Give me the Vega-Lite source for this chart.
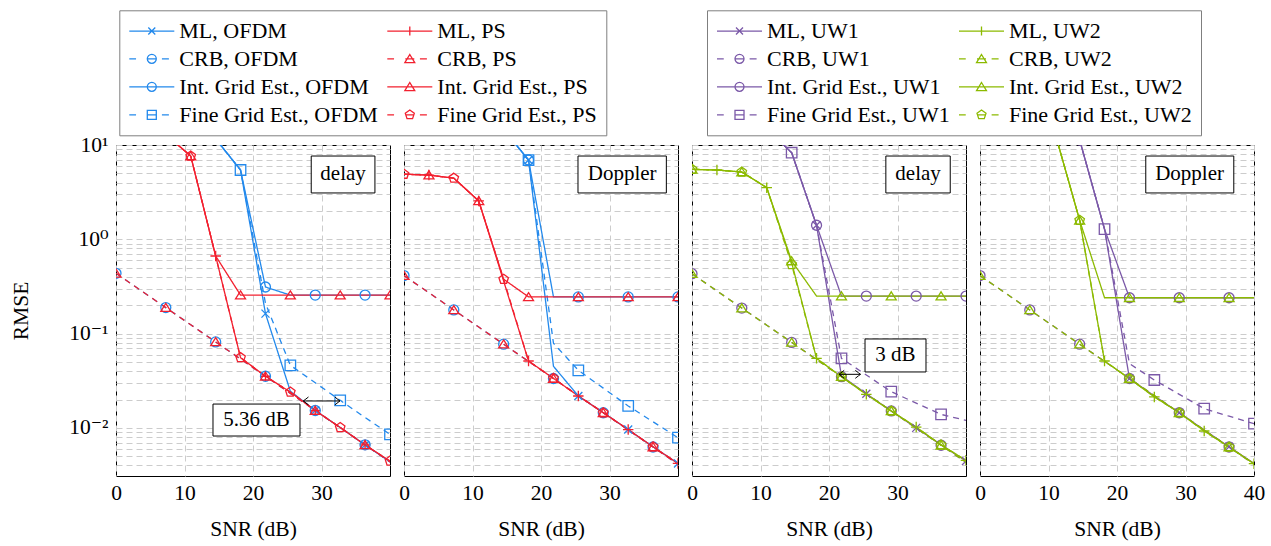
{
"$schema": "https://vega.github.io/schema/vega-lite/v6.json",
"background": "white",
"padding": {"left": 10, "top": 9, "right": 5, "bottom": 5},
"config": {
 "font": "Liberation Serif, Tinos, DejaVu Serif, serif",
 "view": {"stroke": "black", "strokeWidth": 1},
 "text": {"font": "Liberation Serif, Tinos, DejaVu Serif, serif"},
 "axis": {"labelFont": "Liberation Serif, Tinos, DejaVu Serif, serif", "titleFont": "Liberation Serif, Tinos, DejaVu Serif, serif", "labelFontSize": 21.5, "titleFontSize": 21.5, "labelColor": "black", "titleColor": "black", "titleFontWeight": "normal", "ticks": false, "domain": false, "grid": true, "gridColor": "#cccccc", "gridDash": [6, 4], "gridWidth": 1, "labelFlush": false, "labelOverlap": false, "labelBound": false},
 "axisX": {"labelPadding": 6, "titlePadding": 15},
 "axisY": {"labelPadding": 8, "titlePadding": 36},
 "legend": {"labelFont": "Liberation Serif, Tinos, DejaVu Serif, serif", "labelFontSize": 22, "labelColor": "black", "labelLimit": 400, "symbolSize": 441, "symbolOffset": 12, "symbolStrokeWidth": 1.3, "symbolOpacity": 1, "labelOffset": 16, "rowPadding": 5, "columnPadding": 6, "strokeColor": "#7f7f7f", "fillColor": "white", "padding": 9}
},
"datasets": {
 "d": [
{"p":1,"s":"ML, OFDM","x":10.91,"y":25,"m":0},{"p":1,"s":"ML, OFDM","x":14.55,"y":11.6,"m":1},{"p":1,"s":"ML, OFDM","x":18.18,"y":5.43,"m":0},{"p":1,"s":"ML, OFDM","x":21.82,"y":0.163,"m":1},{"p":1,"s":"ML, OFDM","x":25.45,"y":0.0245,"m":0},{"p":1,"s":"ML, OFDM","x":29.09,"y":0.0153,"m":1},{"p":1,"s":"ML, OFDM","x":32.73,"y":0.0101,"m":0},{"p":1,"s":"ML, OFDM","x":36.36,"y":0.0066,"m":1},{"p":1,"s":"ML, OFDM","x":40,"y":0.00436,"m":0},
{"p":1,"s":"CRB, OFDM","x":0,"y":0.436,"m":1},{"p":1,"s":"CRB, OFDM","x":3.64,"y":0.2864,"m":0},{"p":1,"s":"CRB, OFDM","x":7.27,"y":0.1886,"m":1},{"p":1,"s":"CRB, OFDM","x":10.91,"y":0.1241,"m":0},{"p":1,"s":"CRB, OFDM","x":14.55,"y":0.0816,"m":1},{"p":1,"s":"CRB, OFDM","x":18.18,"y":0.0537,"m":0},{"p":1,"s":"CRB, OFDM","x":21.82,"y":0.0353,"m":1},{"p":1,"s":"CRB, OFDM","x":25.45,"y":0.02325,"m":0},{"p":1,"s":"CRB, OFDM","x":29.09,"y":0.01529,"m":1},{"p":1,"s":"CRB, OFDM","x":32.73,"y":0.01006,"m":0},{"p":1,"s":"CRB, OFDM","x":36.36,"y":0.00662,"m":1},{"p":1,"s":"CRB, OFDM","x":40,"y":0.00436,"m":0},
{"p":1,"s":"Int. Grid Est., OFDM","x":10.91,"y":25,"m":0},{"p":1,"s":"Int. Grid Est., OFDM","x":14.55,"y":11.6,"m":1},{"p":1,"s":"Int. Grid Est., OFDM","x":18.18,"y":5.43,"m":0},{"p":1,"s":"Int. Grid Est., OFDM","x":21.82,"y":0.312,"m":1},{"p":1,"s":"Int. Grid Est., OFDM","x":25.45,"y":0.256,"m":0},{"p":1,"s":"Int. Grid Est., OFDM","x":29.09,"y":0.256,"m":1},{"p":1,"s":"Int. Grid Est., OFDM","x":32.73,"y":0.256,"m":0},{"p":1,"s":"Int. Grid Est., OFDM","x":36.36,"y":0.256,"m":1},{"p":1,"s":"Int. Grid Est., OFDM","x":40,"y":0.256,"m":0},
{"p":1,"s":"Fine Grid Est., OFDM","x":10.91,"y":25,"m":1},{"p":1,"s":"Fine Grid Est., OFDM","x":14.55,"y":11.6,"m":0},{"p":1,"s":"Fine Grid Est., OFDM","x":18.18,"y":5.43,"m":1},{"p":1,"s":"Fine Grid Est., OFDM","x":21.82,"y":0.21,"m":0},{"p":1,"s":"Fine Grid Est., OFDM","x":25.45,"y":0.0461,"m":1},{"p":1,"s":"Fine Grid Est., OFDM","x":29.09,"y":0.0301,"m":0},{"p":1,"s":"Fine Grid Est., OFDM","x":32.73,"y":0.0196,"m":1},{"p":1,"s":"Fine Grid Est., OFDM","x":36.36,"y":0.0129,"m":0},{"p":1,"s":"Fine Grid Est., OFDM","x":40,"y":0.00855,"m":1},
{"p":1,"s":"ML, PS","x":7.27,"y":12.9,"m":1},{"p":1,"s":"ML, PS","x":10.91,"y":7.64,"m":0},{"p":1,"s":"ML, PS","x":14.55,"y":0.665,"m":1},{"p":1,"s":"ML, PS","x":18.18,"y":0.0556,"m":0},{"p":1,"s":"ML, PS","x":21.82,"y":0.0353,"m":1},{"p":1,"s":"ML, PS","x":25.45,"y":0.024,"m":0},{"p":1,"s":"ML, PS","x":29.09,"y":0.0153,"m":1},{"p":1,"s":"ML, PS","x":32.73,"y":0.0101,"m":0},{"p":1,"s":"ML, PS","x":36.36,"y":0.0066,"m":1},{"p":1,"s":"ML, PS","x":40,"y":0.00445,"m":0},
{"p":1,"s":"CRB, PS","x":0,"y":0.436,"m":1},{"p":1,"s":"CRB, PS","x":3.64,"y":0.2864,"m":0},{"p":1,"s":"CRB, PS","x":7.27,"y":0.1886,"m":1},{"p":1,"s":"CRB, PS","x":10.91,"y":0.1241,"m":0},{"p":1,"s":"CRB, PS","x":14.55,"y":0.0816,"m":1},{"p":1,"s":"CRB, PS","x":18.18,"y":0.0537,"m":0},{"p":1,"s":"CRB, PS","x":21.82,"y":0.0353,"m":1},{"p":1,"s":"CRB, PS","x":25.45,"y":0.02325,"m":0},{"p":1,"s":"CRB, PS","x":29.09,"y":0.01529,"m":1},{"p":1,"s":"CRB, PS","x":32.73,"y":0.01006,"m":0},{"p":1,"s":"CRB, PS","x":36.36,"y":0.00662,"m":1},{"p":1,"s":"CRB, PS","x":40,"y":0.00436,"m":0},
{"p":1,"s":"Int. Grid Est., PS","x":7.27,"y":12.9,"m":0},{"p":1,"s":"Int. Grid Est., PS","x":10.91,"y":7.64,"m":1},{"p":1,"s":"Int. Grid Est., PS","x":14.55,"y":0.665,"m":0},{"p":1,"s":"Int. Grid Est., PS","x":18.18,"y":0.256,"m":1},{"p":1,"s":"Int. Grid Est., PS","x":21.82,"y":0.256,"m":0},{"p":1,"s":"Int. Grid Est., PS","x":25.45,"y":0.256,"m":1},{"p":1,"s":"Int. Grid Est., PS","x":29.09,"y":0.256,"m":0},{"p":1,"s":"Int. Grid Est., PS","x":32.73,"y":0.256,"m":1},{"p":1,"s":"Int. Grid Est., PS","x":36.36,"y":0.256,"m":0},{"p":1,"s":"Int. Grid Est., PS","x":40,"y":0.256,"m":1},
{"p":1,"s":"Fine Grid Est., PS","x":7.27,"y":12.9,"m":0},{"p":1,"s":"Fine Grid Est., PS","x":10.91,"y":7.64,"m":1},{"p":1,"s":"Fine Grid Est., PS","x":14.55,"y":0.665,"m":0},{"p":1,"s":"Fine Grid Est., PS","x":18.18,"y":0.0556,"m":1},{"p":1,"s":"Fine Grid Est., PS","x":21.82,"y":0.0353,"m":0},{"p":1,"s":"Fine Grid Est., PS","x":25.45,"y":0.024,"m":1},{"p":1,"s":"Fine Grid Est., PS","x":29.09,"y":0.0153,"m":0},{"p":1,"s":"Fine Grid Est., PS","x":32.73,"y":0.0101,"m":1},{"p":1,"s":"Fine Grid Est., PS","x":36.36,"y":0.0066,"m":0},{"p":1,"s":"Fine Grid Est., PS","x":40,"y":0.00445,"m":1},

{"p":2,"s":"ML, OFDM","x":14.55,"y":14.6,"m":0},{"p":2,"s":"ML, OFDM","x":18.18,"y":6.93,"m":1},{"p":2,"s":"ML, OFDM","x":21.82,"y":0.045,"m":0},{"p":2,"s":"ML, OFDM","x":25.45,"y":0.0218,"m":1},{"p":2,"s":"ML, OFDM","x":29.09,"y":0.0145,"m":0},{"p":2,"s":"ML, OFDM","x":32.73,"y":0.0096,"m":1},{"p":2,"s":"ML, OFDM","x":36.36,"y":0.0063,"m":0},{"p":2,"s":"ML, OFDM","x":40,"y":0.0042,"m":1},
{"p":2,"s":"CRB, OFDM","x":0,"y":0.412,"m":1},{"p":2,"s":"CRB, OFDM","x":3.64,"y":0.271,"m":0},{"p":2,"s":"CRB, OFDM","x":7.27,"y":0.1782,"m":1},{"p":2,"s":"CRB, OFDM","x":10.91,"y":0.1173,"m":0},{"p":2,"s":"CRB, OFDM","x":14.55,"y":0.0772,"m":1},{"p":2,"s":"CRB, OFDM","x":18.18,"y":0.0508,"m":0},{"p":2,"s":"CRB, OFDM","x":21.82,"y":0.0334,"m":1},{"p":2,"s":"CRB, OFDM","x":25.45,"y":0.022,"m":0},{"p":2,"s":"CRB, OFDM","x":29.09,"y":0.01448,"m":1},{"p":2,"s":"CRB, OFDM","x":32.73,"y":0.00952,"m":0},{"p":2,"s":"CRB, OFDM","x":36.36,"y":0.00627,"m":1},{"p":2,"s":"CRB, OFDM","x":40,"y":0.00412,"m":0},
{"p":2,"s":"Int. Grid Est., OFDM","x":14.55,"y":14.6,"m":0},{"p":2,"s":"Int. Grid Est., OFDM","x":18.18,"y":6.93,"m":1},{"p":2,"s":"Int. Grid Est., OFDM","x":21.82,"y":0.245,"m":0},{"p":2,"s":"Int. Grid Est., OFDM","x":25.45,"y":0.245,"m":1},{"p":2,"s":"Int. Grid Est., OFDM","x":29.09,"y":0.245,"m":0},{"p":2,"s":"Int. Grid Est., OFDM","x":32.73,"y":0.245,"m":1},{"p":2,"s":"Int. Grid Est., OFDM","x":36.36,"y":0.245,"m":0},{"p":2,"s":"Int. Grid Est., OFDM","x":40,"y":0.245,"m":1},
{"p":2,"s":"Fine Grid Est., OFDM","x":14.55,"y":14.6,"m":0},{"p":2,"s":"Fine Grid Est., OFDM","x":18.18,"y":6.93,"m":1},{"p":2,"s":"Fine Grid Est., OFDM","x":21.82,"y":0.079,"m":0},{"p":2,"s":"Fine Grid Est., OFDM","x":25.45,"y":0.0408,"m":1},{"p":2,"s":"Fine Grid Est., OFDM","x":29.09,"y":0.0264,"m":0},{"p":2,"s":"Fine Grid Est., OFDM","x":32.73,"y":0.0171,"m":1},{"p":2,"s":"Fine Grid Est., OFDM","x":36.36,"y":0.0116,"m":0},{"p":2,"s":"Fine Grid Est., OFDM","x":40,"y":0.00787,"m":1},
{"p":2,"s":"ML, PS","x":0,"y":4.9,"m":0},{"p":2,"s":"ML, PS","x":3.64,"y":4.8,"m":1},{"p":2,"s":"ML, PS","x":7.27,"y":4.45,"m":0},{"p":2,"s":"ML, PS","x":10.91,"y":2.55,"m":1},{"p":2,"s":"ML, PS","x":14.55,"y":0.36,"m":0},{"p":2,"s":"ML, PS","x":18.18,"y":0.0512,"m":1},{"p":2,"s":"ML, PS","x":21.82,"y":0.0335,"m":0},{"p":2,"s":"ML, PS","x":25.45,"y":0.0218,"m":1},{"p":2,"s":"ML, PS","x":29.09,"y":0.0145,"m":0},{"p":2,"s":"ML, PS","x":32.73,"y":0.0096,"m":1},{"p":2,"s":"ML, PS","x":36.36,"y":0.0063,"m":0},{"p":2,"s":"ML, PS","x":40,"y":0.0042,"m":1},
{"p":2,"s":"CRB, PS","x":0,"y":0.412,"m":1},{"p":2,"s":"CRB, PS","x":3.64,"y":0.271,"m":0},{"p":2,"s":"CRB, PS","x":7.27,"y":0.1782,"m":1},{"p":2,"s":"CRB, PS","x":10.91,"y":0.1173,"m":0},{"p":2,"s":"CRB, PS","x":14.55,"y":0.0772,"m":1},{"p":2,"s":"CRB, PS","x":18.18,"y":0.0508,"m":0},{"p":2,"s":"CRB, PS","x":21.82,"y":0.0334,"m":1},{"p":2,"s":"CRB, PS","x":25.45,"y":0.022,"m":0},{"p":2,"s":"CRB, PS","x":29.09,"y":0.01448,"m":1},{"p":2,"s":"CRB, PS","x":32.73,"y":0.00952,"m":0},{"p":2,"s":"CRB, PS","x":36.36,"y":0.00627,"m":1},{"p":2,"s":"CRB, PS","x":40,"y":0.00412,"m":0},
{"p":2,"s":"Int. Grid Est., PS","x":0,"y":4.9,"m":0},{"p":2,"s":"Int. Grid Est., PS","x":3.64,"y":4.8,"m":1},{"p":2,"s":"Int. Grid Est., PS","x":7.27,"y":4.45,"m":0},{"p":2,"s":"Int. Grid Est., PS","x":10.91,"y":2.55,"m":1},{"p":2,"s":"Int. Grid Est., PS","x":14.55,"y":0.377,"m":0},{"p":2,"s":"Int. Grid Est., PS","x":18.18,"y":0.245,"m":1},{"p":2,"s":"Int. Grid Est., PS","x":21.82,"y":0.245,"m":0},{"p":2,"s":"Int. Grid Est., PS","x":25.45,"y":0.245,"m":1},{"p":2,"s":"Int. Grid Est., PS","x":29.09,"y":0.245,"m":0},{"p":2,"s":"Int. Grid Est., PS","x":32.73,"y":0.245,"m":1},{"p":2,"s":"Int. Grid Est., PS","x":36.36,"y":0.245,"m":0},{"p":2,"s":"Int. Grid Est., PS","x":40,"y":0.245,"m":1},
{"p":2,"s":"Fine Grid Est., PS","x":0,"y":4.9,"m":1},{"p":2,"s":"Fine Grid Est., PS","x":3.64,"y":4.8,"m":0},{"p":2,"s":"Fine Grid Est., PS","x":7.27,"y":4.45,"m":1},{"p":2,"s":"Fine Grid Est., PS","x":10.91,"y":2.55,"m":0},{"p":2,"s":"Fine Grid Est., PS","x":14.55,"y":0.377,"m":1},{"p":2,"s":"Fine Grid Est., PS","x":18.18,"y":0.0512,"m":0},{"p":2,"s":"Fine Grid Est., PS","x":21.82,"y":0.0335,"m":1},{"p":2,"s":"Fine Grid Est., PS","x":25.45,"y":0.0218,"m":0},{"p":2,"s":"Fine Grid Est., PS","x":29.09,"y":0.0145,"m":1},{"p":2,"s":"Fine Grid Est., PS","x":32.73,"y":0.0096,"m":0},{"p":2,"s":"Fine Grid Est., PS","x":36.36,"y":0.0063,"m":1},{"p":2,"s":"Fine Grid Est., PS","x":40,"y":0.0042,"m":0},

{"p":3,"s":"ML, UW1","x":10.91,"y":15,"m":1},{"p":3,"s":"ML, UW1","x":14.55,"y":8.28,"m":0},{"p":3,"s":"ML, UW1","x":18.18,"y":1.41,"m":1},{"p":3,"s":"ML, UW1","x":21.82,"y":0.0355,"m":0},{"p":3,"s":"ML, UW1","x":25.45,"y":0.023,"m":1},{"p":3,"s":"ML, UW1","x":29.09,"y":0.0151,"m":0},{"p":3,"s":"ML, UW1","x":32.73,"y":0.01,"m":1},{"p":3,"s":"ML, UW1","x":36.36,"y":0.0066,"m":0},{"p":3,"s":"ML, UW1","x":40,"y":0.00445,"m":1},
{"p":3,"s":"CRB, UW1","x":0,"y":0.4315,"m":1},{"p":3,"s":"CRB, UW1","x":3.64,"y":0.2836,"m":0},{"p":3,"s":"CRB, UW1","x":7.27,"y":0.1866,"m":1},{"p":3,"s":"CRB, UW1","x":10.91,"y":0.1228,"m":0},{"p":3,"s":"CRB, UW1","x":14.55,"y":0.0807,"m":1},{"p":3,"s":"CRB, UW1","x":18.18,"y":0.0531,"m":0},{"p":3,"s":"CRB, UW1","x":21.82,"y":0.0349,"m":1},{"p":3,"s":"CRB, UW1","x":25.45,"y":0.023,"m":0},{"p":3,"s":"CRB, UW1","x":29.09,"y":0.01513,"m":1},{"p":3,"s":"CRB, UW1","x":32.73,"y":0.00995,"m":0},{"p":3,"s":"CRB, UW1","x":36.36,"y":0.00655,"m":1},{"p":3,"s":"CRB, UW1","x":40,"y":0.00431,"m":0},
{"p":3,"s":"Int. Grid Est., UW1","x":10.91,"y":15,"m":1},{"p":3,"s":"Int. Grid Est., UW1","x":14.55,"y":8.28,"m":0},{"p":3,"s":"Int. Grid Est., UW1","x":18.18,"y":1.41,"m":1},{"p":3,"s":"Int. Grid Est., UW1","x":21.82,"y":0.25,"m":0},{"p":3,"s":"Int. Grid Est., UW1","x":25.45,"y":0.25,"m":1},{"p":3,"s":"Int. Grid Est., UW1","x":29.09,"y":0.25,"m":0},{"p":3,"s":"Int. Grid Est., UW1","x":32.73,"y":0.25,"m":1},{"p":3,"s":"Int. Grid Est., UW1","x":36.36,"y":0.25,"m":0},{"p":3,"s":"Int. Grid Est., UW1","x":40,"y":0.25,"m":1},
{"p":3,"s":"Fine Grid Est., UW1","x":10.91,"y":15,"m":0},{"p":3,"s":"Fine Grid Est., UW1","x":14.55,"y":8.28,"m":1},{"p":3,"s":"Fine Grid Est., UW1","x":18.18,"y":1.41,"m":0},{"p":3,"s":"Fine Grid Est., UW1","x":21.82,"y":0.0547,"m":1},{"p":3,"s":"Fine Grid Est., UW1","x":25.45,"y":0.0364,"m":0},{"p":3,"s":"Fine Grid Est., UW1","x":29.09,"y":0.0242,"m":1},{"p":3,"s":"Fine Grid Est., UW1","x":32.73,"y":0.0183,"m":0},{"p":3,"s":"Fine Grid Est., UW1","x":36.36,"y":0.0139,"m":1},{"p":3,"s":"Fine Grid Est., UW1","x":40,"y":0.012,"m":0},
{"p":3,"s":"ML, UW2","x":0,"y":5.52,"m":0},{"p":3,"s":"ML, UW2","x":3.64,"y":5.43,"m":1},{"p":3,"s":"ML, UW2","x":7.27,"y":5.17,"m":0},{"p":3,"s":"ML, UW2","x":10.91,"y":3.53,"m":1},{"p":3,"s":"ML, UW2","x":14.55,"y":0.565,"m":0},{"p":3,"s":"ML, UW2","x":18.18,"y":0.0547,"m":1},{"p":3,"s":"ML, UW2","x":21.82,"y":0.0348,"m":0},{"p":3,"s":"ML, UW2","x":25.45,"y":0.0227,"m":1},{"p":3,"s":"ML, UW2","x":29.09,"y":0.0151,"m":0},{"p":3,"s":"ML, UW2","x":32.73,"y":0.0102,"m":1},{"p":3,"s":"ML, UW2","x":36.36,"y":0.0066,"m":0},{"p":3,"s":"ML, UW2","x":40,"y":0.00453,"m":1},
{"p":3,"s":"CRB, UW2","x":0,"y":0.4315,"m":1},{"p":3,"s":"CRB, UW2","x":3.64,"y":0.2836,"m":0},{"p":3,"s":"CRB, UW2","x":7.27,"y":0.1866,"m":1},{"p":3,"s":"CRB, UW2","x":10.91,"y":0.1228,"m":0},{"p":3,"s":"CRB, UW2","x":14.55,"y":0.0807,"m":1},{"p":3,"s":"CRB, UW2","x":18.18,"y":0.0531,"m":0},{"p":3,"s":"CRB, UW2","x":21.82,"y":0.0349,"m":1},{"p":3,"s":"CRB, UW2","x":25.45,"y":0.023,"m":0},{"p":3,"s":"CRB, UW2","x":29.09,"y":0.01513,"m":1},{"p":3,"s":"CRB, UW2","x":32.73,"y":0.00995,"m":0},{"p":3,"s":"CRB, UW2","x":36.36,"y":0.00655,"m":1},{"p":3,"s":"CRB, UW2","x":40,"y":0.00431,"m":0},
{"p":3,"s":"Int. Grid Est., UW2","x":0,"y":5.52,"m":1},{"p":3,"s":"Int. Grid Est., UW2","x":3.64,"y":5.43,"m":0},{"p":3,"s":"Int. Grid Est., UW2","x":7.27,"y":5.17,"m":1},{"p":3,"s":"Int. Grid Est., UW2","x":10.91,"y":3.53,"m":0},{"p":3,"s":"Int. Grid Est., UW2","x":14.55,"y":0.589,"m":1},{"p":3,"s":"Int. Grid Est., UW2","x":18.18,"y":0.25,"m":0},{"p":3,"s":"Int. Grid Est., UW2","x":21.82,"y":0.25,"m":1},{"p":3,"s":"Int. Grid Est., UW2","x":25.45,"y":0.25,"m":0},{"p":3,"s":"Int. Grid Est., UW2","x":29.09,"y":0.25,"m":1},{"p":3,"s":"Int. Grid Est., UW2","x":32.73,"y":0.25,"m":0},{"p":3,"s":"Int. Grid Est., UW2","x":36.36,"y":0.25,"m":1},{"p":3,"s":"Int. Grid Est., UW2","x":40,"y":0.25,"m":0},
{"p":3,"s":"Fine Grid Est., UW2","x":0,"y":5.52,"m":1},{"p":3,"s":"Fine Grid Est., UW2","x":3.64,"y":5.43,"m":0},{"p":3,"s":"Fine Grid Est., UW2","x":7.27,"y":5.17,"m":1},{"p":3,"s":"Fine Grid Est., UW2","x":10.91,"y":3.53,"m":0},{"p":3,"s":"Fine Grid Est., UW2","x":14.55,"y":0.54,"m":1},{"p":3,"s":"Fine Grid Est., UW2","x":18.18,"y":0.0547,"m":0},{"p":3,"s":"Fine Grid Est., UW2","x":21.82,"y":0.0348,"m":1},{"p":3,"s":"Fine Grid Est., UW2","x":25.45,"y":0.0227,"m":0},{"p":3,"s":"Fine Grid Est., UW2","x":29.09,"y":0.0151,"m":1},{"p":3,"s":"Fine Grid Est., UW2","x":32.73,"y":0.0102,"m":0},{"p":3,"s":"Fine Grid Est., UW2","x":36.36,"y":0.0066,"m":1},{"p":3,"s":"Fine Grid Est., UW2","x":40,"y":0.00453,"m":0},

{"p":4,"s":"ML, UW1","x":14.55,"y":11.3,"m":1},{"p":4,"s":"ML, UW1","x":18.18,"y":1.28,"m":0},{"p":4,"s":"ML, UW1","x":21.82,"y":0.0333,"m":1},{"p":4,"s":"ML, UW1","x":25.45,"y":0.0218,"m":0},{"p":4,"s":"ML, UW1","x":29.09,"y":0.0145,"m":1},{"p":4,"s":"ML, UW1","x":32.73,"y":0.0095,"m":0},{"p":4,"s":"ML, UW1","x":36.36,"y":0.0063,"m":1},{"p":4,"s":"ML, UW1","x":40,"y":0.0042,"m":0},
{"p":4,"s":"CRB, UW1","x":0,"y":0.412,"m":1},{"p":4,"s":"CRB, UW1","x":3.64,"y":0.271,"m":0},{"p":4,"s":"CRB, UW1","x":7.27,"y":0.1782,"m":1},{"p":4,"s":"CRB, UW1","x":10.91,"y":0.1173,"m":0},{"p":4,"s":"CRB, UW1","x":14.55,"y":0.0772,"m":1},{"p":4,"s":"CRB, UW1","x":18.18,"y":0.0508,"m":0},{"p":4,"s":"CRB, UW1","x":21.82,"y":0.0334,"m":1},{"p":4,"s":"CRB, UW1","x":25.45,"y":0.022,"m":0},{"p":4,"s":"CRB, UW1","x":29.09,"y":0.01448,"m":1},{"p":4,"s":"CRB, UW1","x":32.73,"y":0.00952,"m":0},{"p":4,"s":"CRB, UW1","x":36.36,"y":0.00627,"m":1},{"p":4,"s":"CRB, UW1","x":40,"y":0.00412,"m":0},
{"p":4,"s":"Int. Grid Est., UW1","x":14.55,"y":11.3,"m":1},{"p":4,"s":"Int. Grid Est., UW1","x":18.18,"y":1.28,"m":0},{"p":4,"s":"Int. Grid Est., UW1","x":21.82,"y":0.24,"m":1},{"p":4,"s":"Int. Grid Est., UW1","x":25.45,"y":0.24,"m":0},{"p":4,"s":"Int. Grid Est., UW1","x":29.09,"y":0.24,"m":1},{"p":4,"s":"Int. Grid Est., UW1","x":32.73,"y":0.24,"m":0},{"p":4,"s":"Int. Grid Est., UW1","x":36.36,"y":0.24,"m":1},{"p":4,"s":"Int. Grid Est., UW1","x":40,"y":0.24,"m":0},
{"p":4,"s":"Fine Grid Est., UW1","x":14.55,"y":11.3,"m":0},{"p":4,"s":"Fine Grid Est., UW1","x":18.18,"y":1.28,"m":1},{"p":4,"s":"Fine Grid Est., UW1","x":21.82,"y":0.048,"m":0},{"p":4,"s":"Fine Grid Est., UW1","x":25.45,"y":0.0322,"m":1},{"p":4,"s":"Fine Grid Est., UW1","x":29.09,"y":0.0227,"m":0},{"p":4,"s":"Fine Grid Est., UW1","x":32.73,"y":0.016,"m":1},{"p":4,"s":"Fine Grid Est., UW1","x":36.36,"y":0.0133,"m":0},{"p":4,"s":"Fine Grid Est., UW1","x":40,"y":0.0111,"m":1},
{"p":4,"s":"ML, UW2","x":10.91,"y":13.7,"m":1},{"p":4,"s":"ML, UW2","x":14.55,"y":1.59,"m":0},{"p":4,"s":"ML, UW2","x":18.18,"y":0.0512,"m":1},{"p":4,"s":"ML, UW2","x":21.82,"y":0.0333,"m":0},{"p":4,"s":"ML, UW2","x":25.45,"y":0.0213,"m":1},{"p":4,"s":"ML, UW2","x":29.09,"y":0.0145,"m":0},{"p":4,"s":"ML, UW2","x":32.73,"y":0.00927,"m":1},{"p":4,"s":"ML, UW2","x":36.36,"y":0.00627,"m":0},{"p":4,"s":"ML, UW2","x":40,"y":0.00417,"m":1},
{"p":4,"s":"CRB, UW2","x":0,"y":0.412,"m":1},{"p":4,"s":"CRB, UW2","x":3.64,"y":0.271,"m":0},{"p":4,"s":"CRB, UW2","x":7.27,"y":0.1782,"m":1},{"p":4,"s":"CRB, UW2","x":10.91,"y":0.1173,"m":0},{"p":4,"s":"CRB, UW2","x":14.55,"y":0.0772,"m":1},{"p":4,"s":"CRB, UW2","x":18.18,"y":0.0508,"m":0},{"p":4,"s":"CRB, UW2","x":21.82,"y":0.0334,"m":1},{"p":4,"s":"CRB, UW2","x":25.45,"y":0.022,"m":0},{"p":4,"s":"CRB, UW2","x":29.09,"y":0.01448,"m":1},{"p":4,"s":"CRB, UW2","x":32.73,"y":0.00952,"m":0},{"p":4,"s":"CRB, UW2","x":36.36,"y":0.00627,"m":1},{"p":4,"s":"CRB, UW2","x":40,"y":0.00412,"m":0},
{"p":4,"s":"Int. Grid Est., UW2","x":10.91,"y":13.7,"m":0},{"p":4,"s":"Int. Grid Est., UW2","x":14.55,"y":1.59,"m":1},{"p":4,"s":"Int. Grid Est., UW2","x":18.18,"y":0.24,"m":0},{"p":4,"s":"Int. Grid Est., UW2","x":21.82,"y":0.24,"m":1},{"p":4,"s":"Int. Grid Est., UW2","x":25.45,"y":0.24,"m":0},{"p":4,"s":"Int. Grid Est., UW2","x":29.09,"y":0.24,"m":1},{"p":4,"s":"Int. Grid Est., UW2","x":32.73,"y":0.24,"m":0},{"p":4,"s":"Int. Grid Est., UW2","x":36.36,"y":0.24,"m":1},{"p":4,"s":"Int. Grid Est., UW2","x":40,"y":0.24,"m":0},
{"p":4,"s":"Fine Grid Est., UW2","x":10.91,"y":13.7,"m":0},{"p":4,"s":"Fine Grid Est., UW2","x":14.55,"y":1.59,"m":1},{"p":4,"s":"Fine Grid Est., UW2","x":18.18,"y":0.0512,"m":0},{"p":4,"s":"Fine Grid Est., UW2","x":21.82,"y":0.0333,"m":1},{"p":4,"s":"Fine Grid Est., UW2","x":25.45,"y":0.0213,"m":0},{"p":4,"s":"Fine Grid Est., UW2","x":29.09,"y":0.0145,"m":1},{"p":4,"s":"Fine Grid Est., UW2","x":32.73,"y":0.00927,"m":0},{"p":4,"s":"Fine Grid Est., UW2","x":36.36,"y":0.00627,"m":1},{"p":4,"s":"Fine Grid Est., UW2","x":40,"y":0.00417,"m":0}
 ],
 "ann": [
  {"p":1,"t":"delay","x":28.5,"x2":37.8,"y":3.1,"y2":7.64,"tx":33.15,"ty":4.87},
  {"p":1,"t":"5.36 dB","x":14.16,"x2":26.86,"y":0.0082,"y2":0.0179,"tx":20.5,"ty":0.0121},
  {"p":2,"t":"Doppler","x":25.4,"x2":38.3,"y":3.1,"y2":7.64,"tx":31.85,"ty":4.87},
  {"p":3,"t":"delay","x":28.3,"x2":37.7,"y":3.1,"y2":7.64,"tx":33.0,"ty":4.87},
  {"p":3,"t":"3 dB","x":25.26,"x2":34.16,"y":0.0392,"y2":0.0877,"tx":29.7,"ty":0.0586},
  {"p":4,"t":"Doppler","x":24.2,"x2":37.05,"y":3.1,"y2":7.64,"tx":30.6,"ty":4.87}
 ],
 "arr": [
  {"p":1,"x":27.34,"x2":32.7,"y":0.0193},
  {"p":3,"x":21.46,"x2":24.6,"y":0.037}
 ]
},
"spacing": 14,
"bounds": "flush",
"resolve": {"scale": {"color": "independent", "shape": "independent"}},
"hconcat": [
 {
  "width": 274, "height": 331,
  "encoding": {
   "x": {"field": "x", "type": "quantitative", "scale": {"domain": [0, 40], "nice": false, "zero": false}, "axis": {"values": [0, 10, 20, 30], "title": "SNR (dB)"}},
   "y": {"field": "y", "type": "quantitative", "scale": {"type": "log", "domain": [0.00309, 10], "nice": false}, "axis": {"values": [0.004,0.005,0.006,0.007,0.008,0.009,0.01,0.02,0.03,0.04,0.05,0.06,0.07,0.08,0.09,0.1,0.2,0.3,0.4,0.5,0.6,0.7,0.8,0.9,1,2,3,4,5,6,7,8,9,10], "labelExpr": "datum.value==10?'10¹':datum.value==1?'10⁰':datum.value==0.1?'10⁻¹':datum.value==0.01?'10⁻²':''", "title": "RMSE"}}
  },
  "layer": [
   {"data": {"name": "d"}, "transform": [{"filter": "datum.p==1"}],
    "encoding": {"stroke": {"field": "s", "type": "nominal", "scale": {"domain": ["ML, OFDM","CRB, OFDM","Int. Grid Est., OFDM","Fine Grid Est., OFDM","ML, PS","CRB, PS","Int. Grid Est., PS","Fine Grid Est., PS","ML, UW1","CRB, UW1","Int. Grid Est., UW1","Fine Grid Est., UW1","ML, UW2","CRB, UW2","Int. Grid Est., UW2","Fine Grid Est., UW2"], "range": ["#2389ec","#2389ec","#2389ec","#2389ec","#f2202f","#f2202f","#f2202f","#f2202f","#7b59a8","#7b59a8","#7b59a8","#7b59a8","#8cba00","#8cba00","#8cba00","#8cba00"]}, "legend": null}},
    "layer": [
     {"mark": {"type": "line", "clip": true, "strokeWidth": 1.3}, "encoding": {"strokeDash": {"field": "s", "type": "nominal", "scale": {"domain": ["ML, OFDM","CRB, OFDM","Int. Grid Est., OFDM","Fine Grid Est., OFDM","ML, PS","CRB, PS","Int. Grid Est., PS","Fine Grid Est., PS","ML, UW1","CRB, UW1","Int. Grid Est., UW1","Fine Grid Est., UW1","ML, UW2","CRB, UW2","Int. Grid Est., UW2","Fine Grid Est., UW2"], "range": [[1,0],[6,5],[1,0],[6,5],[1,0],[6,5],[1,0],[6,5],[1,0],[6,5],[1,0],[6,5],[1,0],[6,5],[1,0],[6,5]]}, "legend": null}}},
     {"transform": [{"filter": "datum.m==1 && indexof(['ML, OFDM','ML, UW1'], datum.s) >= 0"}], "mark": {"type": "point", "shape": "M-1,-1L1,1M-1,1L1,-1", "size": 64, "filled": false, "opacity": 1, "strokeWidth": 1.3, "clip": true}},
     {"transform": [{"filter": "datum.m==1 && indexof(['ML, PS','ML, UW2'], datum.s) >= 0"}], "mark": {"type": "point", "shape": "M-1,0L1,0M0,-1L0,1", "size": 110, "filled": false, "opacity": 1, "strokeWidth": 1.3, "clip": true}},
     {"transform": [{"filter": "datum.m==1 && indexof(['CRB, OFDM','Int. Grid Est., OFDM','CRB, UW1','Int. Grid Est., UW1'], datum.s) >= 0"}], "mark": {"type": "point", "shape": "circle", "size": 100, "filled": false, "opacity": 1, "strokeWidth": 1.3, "clip": true}},
     {"transform": [{"filter": "datum.m==1 && indexof(['CRB, PS','Int. Grid Est., PS','CRB, UW2','Int. Grid Est., UW2'], datum.s) >= 0"}], "mark": {"type": "point", "shape": "M0,-0.85L1,0.75L-1,0.75Z", "size": 100, "filled": false, "opacity": 1, "strokeWidth": 1.3, "clip": true}},
     {"transform": [{"filter": "datum.m==1 && indexof(['Fine Grid Est., OFDM','Fine Grid Est., UW1'], datum.s) >= 0"}], "mark": {"type": "point", "shape": "square", "size": 110, "filled": false, "opacity": 1, "strokeWidth": 1.3, "clip": true}},
     {"transform": [{"filter": "datum.m==1 && indexof(['Fine Grid Est., PS','Fine Grid Est., UW2'], datum.s) >= 0"}], "mark": {"type": "point", "shape": "M0,-1L0.951,-0.309L0.588,0.809L-0.588,0.809L-0.951,-0.309Z", "size": 100, "filled": false, "opacity": 1, "strokeWidth": 1.3, "clip": true}}
    ]},
   {"data": {"name": "ann"}, "transform": [{"filter": "datum.p==1"}], "mark": {"type": "rect", "fill": "white", "stroke": "black", "strokeWidth": 1}, "encoding": {"x2": {"field": "x2"}, "y2": {"field": "y2"}}},
   {"data": {"name": "ann"}, "transform": [{"filter": "datum.p==1"}], "mark": {"type": "text", "fontSize": 21, "color": "black"}, "encoding": {"x": {"field": "tx", "type": "quantitative"}, "y": {"field": "ty", "type": "quantitative"}, "text": {"field": "t"}}},
   {"data": {"name": "arr"}, "transform": [{"filter": "datum.p==1"}], "mark": {"type": "rule", "color": "black", "strokeWidth": 1}, "encoding": {"x2": {"field": "x2"}}},
   {"data": {"name": "arr"}, "transform": [{"filter": "datum.p==1"}], "mark": {"type": "point", "shape": "M1.3,-1Q0.3,-0.2 0,0Q0.3,0.2 1.3,1", "size": 64, "filled": false, "opacity": 1, "color": "black", "strokeWidth": 1}},
   {"data": {"name": "arr"}, "transform": [{"filter": "datum.p==1"}], "mark": {"type": "point", "shape": "M-1.3,-1Q-0.3,-0.2 0,0Q-0.3,0.2 -1.3,1", "size": 64, "filled": false, "opacity": 1, "color": "black", "strokeWidth": 1}, "encoding": {"x": {"field": "x2", "type": "quantitative"}}},
   {"data": {"name": "d"}, "transform": [{"filter": "false"}], "mark": {"type": "point", "filled": false, "opacity": 1, "strokeWidth": 1.3, "size": 441},
    "encoding": {
     "color": {"field": "s", "type": "nominal", "scale": {"domain": ["ML, OFDM","CRB, OFDM","Int. Grid Est., OFDM","Fine Grid Est., OFDM","ML, PS","CRB, PS","Int. Grid Est., PS","Fine Grid Est., PS"], "range": ["#2389ec","#2389ec","#2389ec","#2389ec","#f2202f","#f2202f","#f2202f","#f2202f"]}, "legend": {"orient": "none", "legendX": 3.3, "legendY": -134.7, "title": null, "columns": 2}},
     "shape": {"field": "s", "type": "nominal", "scale": {"domain": ["ML, OFDM","CRB, OFDM","Int. Grid Est., OFDM","Fine Grid Est., OFDM","ML, PS","CRB, PS","Int. Grid Est., PS","Fine Grid Est., PS"], "range": [
       "M-2.143,0H2.143M-0.332,-0.332L0.332,0.332M-0.332,0.332L0.332,-0.332",
       "M-2.143,0H-1.5M-0.429,0H0.429M0.964,0H1.629M0.429,0A0.429,0.429 0 1,1 -0.429,0A0.429,0.429 0 1,1 0.429,0",
       "M-2.143,0H2.143M0.429,0A0.429,0.429 0 1,1 -0.429,0A0.429,0.429 0 1,1 0.429,0",
       "M-2.143,0H-1.5M-0.429,0H0.429M0.964,0H1.629M-0.429,-0.429H0.429V0.429H-0.429Z",
       "M-2.143,0H2.143M0,-0.429V0.429",
       "M-2.143,0H-1.5M-0.429,0H0.429M0.964,0H1.629M0,-0.407L0.471,0.364L-0.471,0.364Z",
       "M-2.143,0H2.143M0,-0.407L0.471,0.364L-0.471,0.364Z",
       "M-2.143,0H-1.5M-0.429,0H0.429M0.964,0H1.629M0,-0.45L0.429,-0.139L0.264,0.364L-0.264,0.364L-0.429,-0.139Z"]}, "legend": {"orient": "none", "legendX": 3.3, "legendY": -134.7, "title": null, "columns": 2}}
    }}
  ]
 },
 {
  "width": 274, "height": 331,
  "encoding": {
   "x": {"field": "x", "type": "quantitative", "scale": {"domain": [0, 40], "nice": false, "zero": false}, "axis": {"values": [0, 10, 20, 30], "title": "SNR (dB)"}},
   "y": {"field": "y", "type": "quantitative", "scale": {"type": "log", "domain": [0.00309, 10], "nice": false}, "axis": {"values": [0.004,0.005,0.006,0.007,0.008,0.009,0.01,0.02,0.03,0.04,0.05,0.06,0.07,0.08,0.09,0.1,0.2,0.3,0.4,0.5,0.6,0.7,0.8,0.9,1,2,3,4,5,6,7,8,9,10], "labels": false, "title": null}}
  },
  "layer": [
   {"data": {"name": "d"}, "transform": [{"filter": "datum.p==2"}],
    "encoding": {"stroke": {"field": "s", "type": "nominal", "scale": {"domain": ["ML, OFDM","CRB, OFDM","Int. Grid Est., OFDM","Fine Grid Est., OFDM","ML, PS","CRB, PS","Int. Grid Est., PS","Fine Grid Est., PS","ML, UW1","CRB, UW1","Int. Grid Est., UW1","Fine Grid Est., UW1","ML, UW2","CRB, UW2","Int. Grid Est., UW2","Fine Grid Est., UW2"], "range": ["#2389ec","#2389ec","#2389ec","#2389ec","#f2202f","#f2202f","#f2202f","#f2202f","#7b59a8","#7b59a8","#7b59a8","#7b59a8","#8cba00","#8cba00","#8cba00","#8cba00"]}, "legend": null}},
    "layer": [
     {"mark": {"type": "line", "clip": true, "strokeWidth": 1.3}, "encoding": {"strokeDash": {"field": "s", "type": "nominal", "scale": {"domain": ["ML, OFDM","CRB, OFDM","Int. Grid Est., OFDM","Fine Grid Est., OFDM","ML, PS","CRB, PS","Int. Grid Est., PS","Fine Grid Est., PS","ML, UW1","CRB, UW1","Int. Grid Est., UW1","Fine Grid Est., UW1","ML, UW2","CRB, UW2","Int. Grid Est., UW2","Fine Grid Est., UW2"], "range": [[1,0],[6,5],[1,0],[6,5],[1,0],[6,5],[1,0],[6,5],[1,0],[6,5],[1,0],[6,5],[1,0],[6,5],[1,0],[6,5]]}, "legend": null}}},
     {"transform": [{"filter": "datum.m==1 && indexof(['ML, OFDM','ML, UW1'], datum.s) >= 0"}], "mark": {"type": "point", "shape": "M-1,-1L1,1M-1,1L1,-1", "size": 64, "filled": false, "opacity": 1, "strokeWidth": 1.3, "clip": true}},
     {"transform": [{"filter": "datum.m==1 && indexof(['ML, PS','ML, UW2'], datum.s) >= 0"}], "mark": {"type": "point", "shape": "M-1,0L1,0M0,-1L0,1", "size": 110, "filled": false, "opacity": 1, "strokeWidth": 1.3, "clip": true}},
     {"transform": [{"filter": "datum.m==1 && indexof(['CRB, OFDM','Int. Grid Est., OFDM','CRB, UW1','Int. Grid Est., UW1'], datum.s) >= 0"}], "mark": {"type": "point", "shape": "circle", "size": 100, "filled": false, "opacity": 1, "strokeWidth": 1.3, "clip": true}},
     {"transform": [{"filter": "datum.m==1 && indexof(['CRB, PS','Int. Grid Est., PS','CRB, UW2','Int. Grid Est., UW2'], datum.s) >= 0"}], "mark": {"type": "point", "shape": "M0,-0.85L1,0.75L-1,0.75Z", "size": 100, "filled": false, "opacity": 1, "strokeWidth": 1.3, "clip": true}},
     {"transform": [{"filter": "datum.m==1 && indexof(['Fine Grid Est., OFDM','Fine Grid Est., UW1'], datum.s) >= 0"}], "mark": {"type": "point", "shape": "square", "size": 110, "filled": false, "opacity": 1, "strokeWidth": 1.3, "clip": true}},
     {"transform": [{"filter": "datum.m==1 && indexof(['Fine Grid Est., PS','Fine Grid Est., UW2'], datum.s) >= 0"}], "mark": {"type": "point", "shape": "M0,-1L0.951,-0.309L0.588,0.809L-0.588,0.809L-0.951,-0.309Z", "size": 100, "filled": false, "opacity": 1, "strokeWidth": 1.3, "clip": true}}
    ]},
   {"data": {"name": "ann"}, "transform": [{"filter": "datum.p==2"}], "mark": {"type": "rect", "fill": "white", "stroke": "black", "strokeWidth": 1}, "encoding": {"x2": {"field": "x2"}, "y2": {"field": "y2"}}},
   {"data": {"name": "ann"}, "transform": [{"filter": "datum.p==2"}], "mark": {"type": "text", "fontSize": 21, "color": "black"}, "encoding": {"x": {"field": "tx", "type": "quantitative"}, "y": {"field": "ty", "type": "quantitative"}, "text": {"field": "t"}}}
  ]
 },
 {
  "width": 274, "height": 331,
  "encoding": {
   "x": {"field": "x", "type": "quantitative", "scale": {"domain": [0, 40], "nice": false, "zero": false}, "axis": {"values": [0, 10, 20, 30], "title": "SNR (dB)"}},
   "y": {"field": "y", "type": "quantitative", "scale": {"type": "log", "domain": [0.00309, 10], "nice": false}, "axis": {"values": [0.004,0.005,0.006,0.007,0.008,0.009,0.01,0.02,0.03,0.04,0.05,0.06,0.07,0.08,0.09,0.1,0.2,0.3,0.4,0.5,0.6,0.7,0.8,0.9,1,2,3,4,5,6,7,8,9,10], "labels": false, "title": null}}
  },
  "layer": [
   {"data": {"name": "d"}, "transform": [{"filter": "datum.p==3"}],
    "encoding": {"stroke": {"field": "s", "type": "nominal", "scale": {"domain": ["ML, OFDM","CRB, OFDM","Int. Grid Est., OFDM","Fine Grid Est., OFDM","ML, PS","CRB, PS","Int. Grid Est., PS","Fine Grid Est., PS","ML, UW1","CRB, UW1","Int. Grid Est., UW1","Fine Grid Est., UW1","ML, UW2","CRB, UW2","Int. Grid Est., UW2","Fine Grid Est., UW2"], "range": ["#2389ec","#2389ec","#2389ec","#2389ec","#f2202f","#f2202f","#f2202f","#f2202f","#7b59a8","#7b59a8","#7b59a8","#7b59a8","#8cba00","#8cba00","#8cba00","#8cba00"]}, "legend": null}},
    "layer": [
     {"mark": {"type": "line", "clip": true, "strokeWidth": 1.3}, "encoding": {"strokeDash": {"field": "s", "type": "nominal", "scale": {"domain": ["ML, OFDM","CRB, OFDM","Int. Grid Est., OFDM","Fine Grid Est., OFDM","ML, PS","CRB, PS","Int. Grid Est., PS","Fine Grid Est., PS","ML, UW1","CRB, UW1","Int. Grid Est., UW1","Fine Grid Est., UW1","ML, UW2","CRB, UW2","Int. Grid Est., UW2","Fine Grid Est., UW2"], "range": [[1,0],[6,5],[1,0],[6,5],[1,0],[6,5],[1,0],[6,5],[1,0],[6,5],[1,0],[6,5],[1,0],[6,5],[1,0],[6,5]]}, "legend": null}}},
     {"transform": [{"filter": "datum.m==1 && indexof(['ML, OFDM','ML, UW1'], datum.s) >= 0"}], "mark": {"type": "point", "shape": "M-1,-1L1,1M-1,1L1,-1", "size": 64, "filled": false, "opacity": 1, "strokeWidth": 1.3, "clip": true}},
     {"transform": [{"filter": "datum.m==1 && indexof(['ML, PS','ML, UW2'], datum.s) >= 0"}], "mark": {"type": "point", "shape": "M-1,0L1,0M0,-1L0,1", "size": 110, "filled": false, "opacity": 1, "strokeWidth": 1.3, "clip": true}},
     {"transform": [{"filter": "datum.m==1 && indexof(['CRB, OFDM','Int. Grid Est., OFDM','CRB, UW1','Int. Grid Est., UW1'], datum.s) >= 0"}], "mark": {"type": "point", "shape": "circle", "size": 100, "filled": false, "opacity": 1, "strokeWidth": 1.3, "clip": true}},
     {"transform": [{"filter": "datum.m==1 && indexof(['CRB, PS','Int. Grid Est., PS','CRB, UW2','Int. Grid Est., UW2'], datum.s) >= 0"}], "mark": {"type": "point", "shape": "M0,-0.85L1,0.75L-1,0.75Z", "size": 100, "filled": false, "opacity": 1, "strokeWidth": 1.3, "clip": true}},
     {"transform": [{"filter": "datum.m==1 && indexof(['Fine Grid Est., OFDM','Fine Grid Est., UW1'], datum.s) >= 0"}], "mark": {"type": "point", "shape": "square", "size": 110, "filled": false, "opacity": 1, "strokeWidth": 1.3, "clip": true}},
     {"transform": [{"filter": "datum.m==1 && indexof(['Fine Grid Est., PS','Fine Grid Est., UW2'], datum.s) >= 0"}], "mark": {"type": "point", "shape": "M0,-1L0.951,-0.309L0.588,0.809L-0.588,0.809L-0.951,-0.309Z", "size": 100, "filled": false, "opacity": 1, "strokeWidth": 1.3, "clip": true}}
    ]},
   {"data": {"name": "ann"}, "transform": [{"filter": "datum.p==3"}], "mark": {"type": "rect", "fill": "white", "stroke": "black", "strokeWidth": 1}, "encoding": {"x2": {"field": "x2"}, "y2": {"field": "y2"}}},
   {"data": {"name": "ann"}, "transform": [{"filter": "datum.p==3"}], "mark": {"type": "text", "fontSize": 21, "color": "black"}, "encoding": {"x": {"field": "tx", "type": "quantitative"}, "y": {"field": "ty", "type": "quantitative"}, "text": {"field": "t"}}},
   {"data": {"name": "arr"}, "transform": [{"filter": "datum.p==3"}], "mark": {"type": "rule", "color": "black", "strokeWidth": 1}, "encoding": {"x2": {"field": "x2"}}},
   {"data": {"name": "arr"}, "transform": [{"filter": "datum.p==3"}], "mark": {"type": "point", "shape": "M1.3,-1Q0.3,-0.2 0,0Q0.3,0.2 1.3,1", "size": 64, "filled": false, "opacity": 1, "color": "black", "strokeWidth": 1}},
   {"data": {"name": "arr"}, "transform": [{"filter": "datum.p==3"}], "mark": {"type": "point", "shape": "M-1.3,-1Q-0.3,-0.2 0,0Q-0.3,0.2 -1.3,1", "size": 64, "filled": false, "opacity": 1, "color": "black", "strokeWidth": 1}, "encoding": {"x": {"field": "x2", "type": "quantitative"}}},
   {"data": {"name": "d"}, "transform": [{"filter": "false"}], "mark": {"type": "point", "filled": false, "opacity": 1, "strokeWidth": 1.3, "size": 441},
    "encoding": {
     "color": {"field": "s", "type": "nominal", "scale": {"domain": ["ML, UW1","CRB, UW1","Int. Grid Est., UW1","Fine Grid Est., UW1","ML, UW2","CRB, UW2","Int. Grid Est., UW2","Fine Grid Est., UW2"], "range": ["#7b59a8","#7b59a8","#7b59a8","#7b59a8","#8cba00","#8cba00","#8cba00","#8cba00"]}, "legend": {"orient": "none", "legendX": 15, "legendY": -134.7, "title": null, "columns": 2}},
     "shape": {"field": "s", "type": "nominal", "scale": {"domain": ["ML, UW1","CRB, UW1","Int. Grid Est., UW1","Fine Grid Est., UW1","ML, UW2","CRB, UW2","Int. Grid Est., UW2","Fine Grid Est., UW2"], "range": [
       "M-2.143,0H2.143M-0.332,-0.332L0.332,0.332M-0.332,0.332L0.332,-0.332",
       "M-2.143,0H-1.5M-0.429,0H0.429M0.964,0H1.629M0.429,0A0.429,0.429 0 1,1 -0.429,0A0.429,0.429 0 1,1 0.429,0",
       "M-2.143,0H2.143M0.429,0A0.429,0.429 0 1,1 -0.429,0A0.429,0.429 0 1,1 0.429,0",
       "M-2.143,0H-1.5M-0.429,0H0.429M0.964,0H1.629M-0.429,-0.429H0.429V0.429H-0.429Z",
       "M-2.143,0H2.143M0,-0.429V0.429",
       "M-2.143,0H-1.5M-0.429,0H0.429M0.964,0H1.629M0,-0.407L0.471,0.364L-0.471,0.364Z",
       "M-2.143,0H2.143M0,-0.407L0.471,0.364L-0.471,0.364Z",
       "M-2.143,0H-1.5M-0.429,0H0.429M0.964,0H1.629M0,-0.45L0.429,-0.139L0.264,0.364L-0.264,0.364L-0.429,-0.139Z"]}, "legend": {"orient": "none", "legendX": 15, "legendY": -134.7, "title": null, "columns": 2}}
    }}
  ]
 },
 {
  "width": 274, "height": 331,
  "encoding": {
   "x": {"field": "x", "type": "quantitative", "scale": {"domain": [0, 40], "nice": false, "zero": false}, "axis": {"values": [0, 10, 20, 30, 40], "title": "SNR (dB)"}},
   "y": {"field": "y", "type": "quantitative", "scale": {"type": "log", "domain": [0.00309, 10], "nice": false}, "axis": {"values": [0.004,0.005,0.006,0.007,0.008,0.009,0.01,0.02,0.03,0.04,0.05,0.06,0.07,0.08,0.09,0.1,0.2,0.3,0.4,0.5,0.6,0.7,0.8,0.9,1,2,3,4,5,6,7,8,9,10], "labels": false, "title": null}}
  },
  "layer": [
   {"data": {"name": "d"}, "transform": [{"filter": "datum.p==4"}],
    "encoding": {"stroke": {"field": "s", "type": "nominal", "scale": {"domain": ["ML, OFDM","CRB, OFDM","Int. Grid Est., OFDM","Fine Grid Est., OFDM","ML, PS","CRB, PS","Int. Grid Est., PS","Fine Grid Est., PS","ML, UW1","CRB, UW1","Int. Grid Est., UW1","Fine Grid Est., UW1","ML, UW2","CRB, UW2","Int. Grid Est., UW2","Fine Grid Est., UW2"], "range": ["#2389ec","#2389ec","#2389ec","#2389ec","#f2202f","#f2202f","#f2202f","#f2202f","#7b59a8","#7b59a8","#7b59a8","#7b59a8","#8cba00","#8cba00","#8cba00","#8cba00"]}, "legend": null}},
    "layer": [
     {"mark": {"type": "line", "clip": true, "strokeWidth": 1.3}, "encoding": {"strokeDash": {"field": "s", "type": "nominal", "scale": {"domain": ["ML, OFDM","CRB, OFDM","Int. Grid Est., OFDM","Fine Grid Est., OFDM","ML, PS","CRB, PS","Int. Grid Est., PS","Fine Grid Est., PS","ML, UW1","CRB, UW1","Int. Grid Est., UW1","Fine Grid Est., UW1","ML, UW2","CRB, UW2","Int. Grid Est., UW2","Fine Grid Est., UW2"], "range": [[1,0],[6,5],[1,0],[6,5],[1,0],[6,5],[1,0],[6,5],[1,0],[6,5],[1,0],[6,5],[1,0],[6,5],[1,0],[6,5]]}, "legend": null}}},
     {"transform": [{"filter": "datum.m==1 && indexof(['ML, OFDM','ML, UW1'], datum.s) >= 0"}], "mark": {"type": "point", "shape": "M-1,-1L1,1M-1,1L1,-1", "size": 64, "filled": false, "opacity": 1, "strokeWidth": 1.3, "clip": true}},
     {"transform": [{"filter": "datum.m==1 && indexof(['ML, PS','ML, UW2'], datum.s) >= 0"}], "mark": {"type": "point", "shape": "M-1,0L1,0M0,-1L0,1", "size": 110, "filled": false, "opacity": 1, "strokeWidth": 1.3, "clip": true}},
     {"transform": [{"filter": "datum.m==1 && indexof(['CRB, OFDM','Int. Grid Est., OFDM','CRB, UW1','Int. Grid Est., UW1'], datum.s) >= 0"}], "mark": {"type": "point", "shape": "circle", "size": 100, "filled": false, "opacity": 1, "strokeWidth": 1.3, "clip": true}},
     {"transform": [{"filter": "datum.m==1 && indexof(['CRB, PS','Int. Grid Est., PS','CRB, UW2','Int. Grid Est., UW2'], datum.s) >= 0"}], "mark": {"type": "point", "shape": "M0,-0.85L1,0.75L-1,0.75Z", "size": 100, "filled": false, "opacity": 1, "strokeWidth": 1.3, "clip": true}},
     {"transform": [{"filter": "datum.m==1 && indexof(['Fine Grid Est., OFDM','Fine Grid Est., UW1'], datum.s) >= 0"}], "mark": {"type": "point", "shape": "square", "size": 110, "filled": false, "opacity": 1, "strokeWidth": 1.3, "clip": true}},
     {"transform": [{"filter": "datum.m==1 && indexof(['Fine Grid Est., PS','Fine Grid Est., UW2'], datum.s) >= 0"}], "mark": {"type": "point", "shape": "M0,-1L0.951,-0.309L0.588,0.809L-0.588,0.809L-0.951,-0.309Z", "size": 100, "filled": false, "opacity": 1, "strokeWidth": 1.3, "clip": true}}
    ]},
   {"data": {"name": "ann"}, "transform": [{"filter": "datum.p==4"}], "mark": {"type": "rect", "fill": "white", "stroke": "black", "strokeWidth": 1}, "encoding": {"x2": {"field": "x2"}, "y2": {"field": "y2"}}},
   {"data": {"name": "ann"}, "transform": [{"filter": "datum.p==4"}], "mark": {"type": "text", "fontSize": 21, "color": "black"}, "encoding": {"x": {"field": "tx", "type": "quantitative"}, "y": {"field": "ty", "type": "quantitative"}, "text": {"field": "t"}}}
  ]
 }
]
}
